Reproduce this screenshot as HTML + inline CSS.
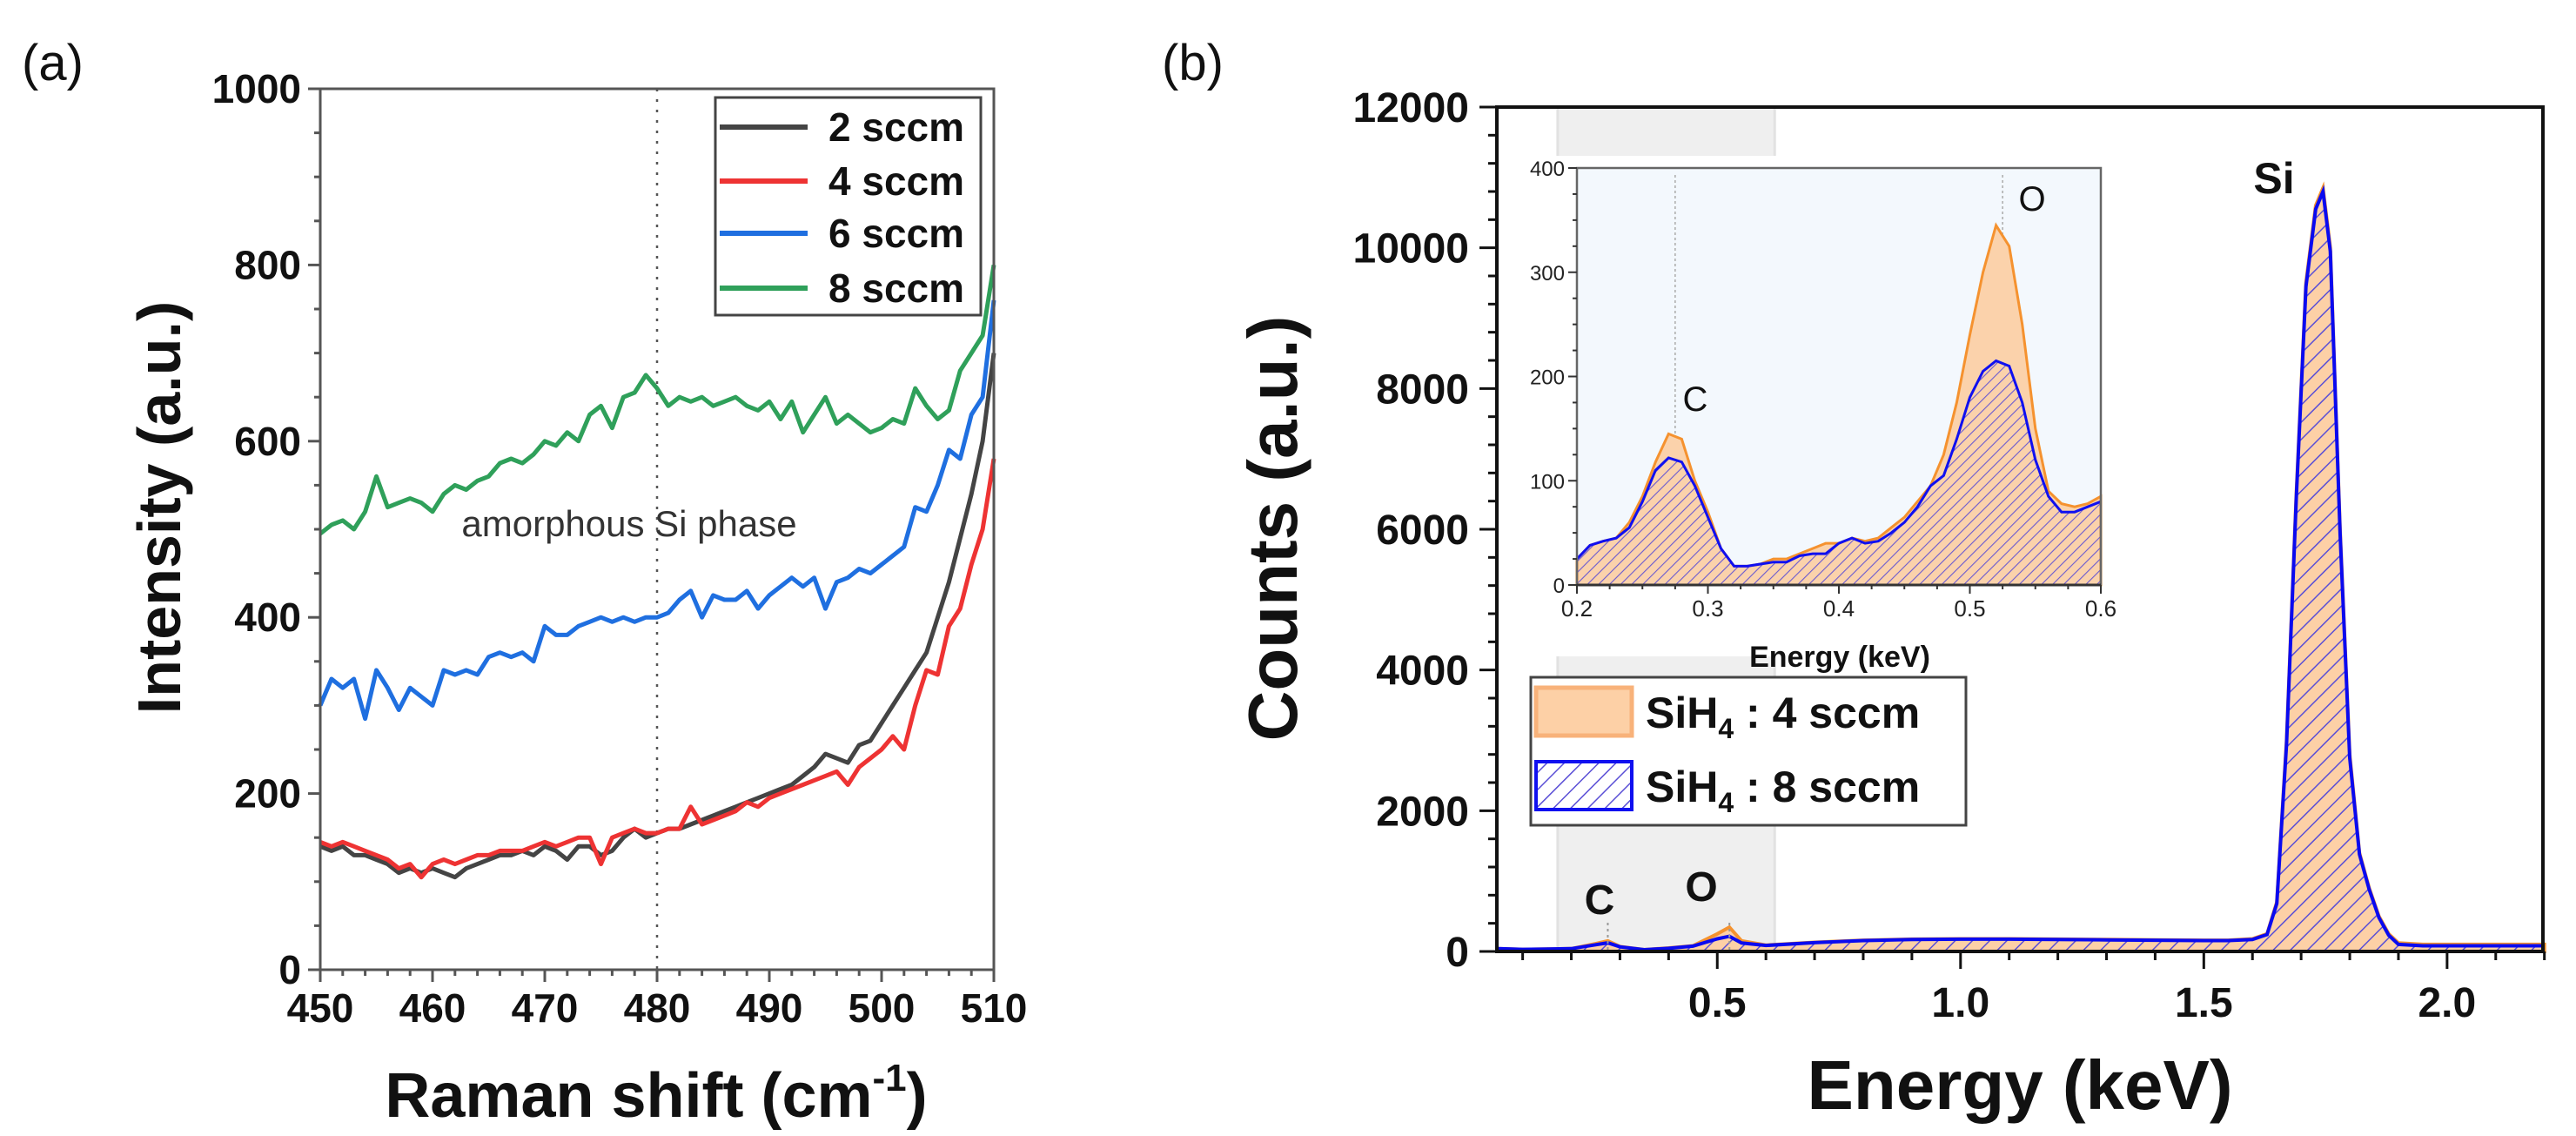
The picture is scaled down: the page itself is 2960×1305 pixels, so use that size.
<!DOCTYPE html>
<html><head><meta charset="utf-8"><style>
html,body{margin:0;padding:0;background:#fff;}
svg{display:block;font-family:"Liberation Sans",Arial,sans-serif;}
</style></head><body>
<svg id="fig" width="2960" height="1305" viewBox="0 0 2960 1305" xmlns="http://www.w3.org/2000/svg">
<defs>
<pattern id="hatch" patternUnits="userSpaceOnUse" width="14" height="14" patternTransform="rotate(45)">
<line x1="0" y1="0" x2="0" y2="14" stroke="#5a4fd6" stroke-width="3"/>
</pattern>
<pattern id="hatchS" patternUnits="userSpaceOnUse" width="9" height="9" patternTransform="rotate(45)">
<line x1="0" y1="0" x2="0" y2="9" stroke="#6a5ad0" stroke-width="2.2"/>
</pattern>
</defs>
<g id="pa"></g>
<g id="pb"></g>
</svg>
<script>
// ---------- Panel (a) data ----------
const ramanStart = 450;
const ramanStep = 1;
const series2sccm = [140,135,140,130,130,125,120,110,115,110,115,110,105,115,120,125,130,130,135,130,140,135,125,140,140,130,135,150,160,150,155,160,160,165,170,175,180,185,190,195,200,205,210,220,230,245,240,235,255,260,280,300,320,340,360,400,440,490,540,600,700];
const series4sccm = [145,140,145,140,135,130,125,115,120,105,120,125,120,125,130,130,135,135,135,140,145,140,145,150,150,120,150,155,160,155,155,160,160,185,165,170,175,180,190,185,195,200,205,210,215,220,225,210,230,240,250,265,250,300,340,335,390,410,460,500,580];
const series6sccm = [300,330,320,330,285,340,320,295,320,310,300,340,335,340,335,355,360,355,360,350,390,380,380,390,395,400,395,400,395,400,400,405,420,430,400,425,420,420,430,410,425,435,445,435,445,410,440,445,455,450,460,470,480,525,520,550,590,580,630,650,760];
const series8sccm = [495,505,510,500,520,560,525,530,535,530,520,540,550,545,555,560,575,580,575,585,600,595,610,600,630,640,615,650,655,675,660,640,650,645,650,640,645,650,640,635,645,625,645,610,630,650,620,630,620,610,615,625,620,660,640,625,635,680,700,720,800];
const ramanLabels = ["2 sccm","4 sccm","6 sccm","8 sccm"];
const ramanXTicks = [450,460,470,480,490,500,510];
const ramanYTicks = [0,200,400,600,800,1000];

// ---------- Panel (b) data ----------
const edsEnergy = [0.05,0.1,0.15,0.2,0.25,0.275,0.3,0.35,0.4,0.45,0.5,0.525,0.55,0.6,0.7,0.8,0.9,1.0,1.1,1.2,1.3,1.4,1.5,1.55,1.6,1.63,1.65,1.67,1.69,1.71,1.73,1.745,1.76,1.78,1.8,1.82,1.84,1.86,1.88,1.9,1.95,2.0,2.1,2.2];
const eds4sccm = [40,30,35,40,110,150,70,25,50,80,250,345,150,90,130,160,175,180,180,175,170,165,160,160,180,250,700,3000,6500,9500,10600,10850,10000,6000,2800,1400,900,500,250,120,100,100,100,100];
const eds8sccm = [40,30,35,40,95,122,65,25,45,75,180,215,120,85,125,155,170,175,175,170,165,160,155,155,170,240,680,2950,6450,9450,10550,10800,9950,5950,2750,1380,880,480,230,100,80,80,80,80];
const edsXTicks = [0.5,1.0,1.5,2.0];
const edsYTicks = [0,2000,4000,6000,8000,10000,12000];
const insetStart = 0.2;
const insetStep = 0.01;
const inset4sccm = [25,38,42,45,60,85,118,145,140,100,70,35,18,18,20,25,25,30,35,40,40,45,42,45,55,65,80,95,125,175,240,300,345,325,250,150,90,78,75,78,85];
const inset8sccm = [25,38,42,45,55,80,110,122,118,95,65,35,18,18,20,22,22,28,30,30,40,45,40,42,50,60,75,95,105,140,180,205,215,210,175,120,85,70,70,75,80];
const insetXTicks = [0.2,0.3,0.4,0.5,0.6];
const insetYTicks = [0,100,200,300,400];

const NS = "http://www.w3.org/2000/svg";
function mk(parent, tag, attrs, text){
  const e = document.createElementNS(NS, tag);
  for (const k in attrs) e.setAttribute(k, attrs[k]);
  if (text !== undefined) e.textContent = text;
  parent.appendChild(e);
  return e;
}

// ===== Panel A =====
const A = document.getElementById('pa');
const AX0=368, AX1=1142, AY0=1114, AY1=102;
const xa = v => AX0 + (v-450)/60*(AX1-AX0);
const ya = v => AY0 - v/1000*(AY0-AY1);

let t = mk(A,'text',{x:25,y:92,'font-size':58,fill:'#111'},'(a)');
 

// dotted line at 480
let dl = mk(A,'line',{x1:xa(480),x2:xa(480),y1:AY1,y2:AY0,stroke:'#555','stroke-width':2.5,'stroke-dasharray':'3,9'});
 
let am = mk(A,'text',{x:723,y:616,'font-size':42,fill:'#333','text-anchor':'middle'},'amorphous Si phase');
 

const aColors = ['#444444','#ee3333','#1f6fe0','#2fa05a'];
const aSeries = [series2sccm, series4sccm, series6sccm, series8sccm];
const aDrawOrder = [0,1,2,3];
aDrawOrder.forEach(si=>{
  const d = aSeries[si].map((v,i)=>(i?'L':'M')+xa(ramanStart+i*ramanStep).toFixed(1)+','+ya(v).toFixed(1)).join('');
  const p = mk(A,'path',{d:d,fill:'none',stroke:aColors[si],'stroke-width':5,'stroke-linejoin':'round'});
  
  
});

// frame
let fa = mk(A,'rect',{x:AX0,y:AY1,width:AX1-AX0,height:AY0-AY1,fill:'none',stroke:'#555','stroke-width':3});
 
// ticks
for(let v=0; v<=1000; v+=50){
  const major = v%200===0;
  const tk = mk(A,'line',{x1:AX0,x2:AX0-(major?14:7),y1:ya(v),y2:ya(v),stroke:'#555','stroke-width':3});
   
}
ramanYTicks.forEach(v=>{
  const l = mk(A,'text',{x:AX0-22,y:ya(v)+16,'font-size':46,'font-weight':'bold','text-anchor':'end',fill:'#111'},String(v));
   
});
for(let v=450; v<=510; v+=2){
  const major = v%10===0;
  const tk = mk(A,'line',{x1:xa(v),x2:xa(v),y1:AY0,y2:AY0+(major?14:7),stroke:'#555','stroke-width':3});
   
}
ramanXTicks.forEach(v=>{
  const l = mk(A,'text',{x:xa(v),y:1174,'font-size':46,'font-weight':'bold','text-anchor':'middle',fill:'#111'},String(v));
   
});
let yt = mk(A,'text',{x:0,y:0,'font-size':70,'font-weight':'bold','text-anchor':'middle',fill:'#111',transform:'translate(207,583) rotate(-90)'},'Intensity (a.u.)');
 
let xt = mk(A,'text',{x:754,y:1283,'font-size':72,'font-weight':'bold','text-anchor':'middle',fill:'#111'});
 
mk(xt,'tspan',{},'Raman shift (cm');
mk(xt,'tspan',{'font-size':44,dy:-30},'-1');
mk(xt,'tspan',{dy:30},')');

// legend A
const LA = mk(A,'g',{});
 
mk(LA,'rect',{x:822,y:112,width:305,height:250,fill:'#fff',stroke:'#444','stroke-width':3});
const legRows=[146,208,268,331];
ramanLabels.forEach((lab,i)=>{
  const g = mk(LA,'g',{});
   
  mk(g,'line',{x1:827,x2:928,y1:legRows[i],y2:legRows[i],stroke:aColors[i],'stroke-width':6});
  mk(g,'text',{x:952,y:legRows[i]+16,'font-size':46,'font-weight':'bold',fill:'#111'},lab);
});

// ===== Panel B =====
const B = document.getElementById('pb');
const BX0=1720, BX1=2922, BY0=1093, BY1=123;
const EMIN=0.047, EMAX=2.197;
const xb = v => BX0 + (v-EMIN)/(EMAX-EMIN)*(BX1-BX0);
const yb = v => BY0 - v/12000*(BY0-BY1);

let tb = mk(B,'text',{x:1335,y:92,'font-size':58,fill:'#111'},'(b)');
 

// gray band
let band = mk(B,'rect',{x:xb(0.172),y:BY1,width:xb(0.618)-xb(0.172),height:BY0-BY1,fill:'#efefef',stroke:'#e2e2e2','stroke-width':3});
 
let wb = mk(B,'rect',{x:1728,y:179,width:780,height:575,fill:'#fff'});
 

function areaPath(xs, ys, fx, fy, base){
  let d = 'M'+fx(xs[0]).toFixed(1)+','+base;
  xs.forEach((x,i)=>{ d += 'L'+fx(x).toFixed(1)+','+fy(ys[i]).toFixed(1); });
  d += 'L'+fx(xs[xs.length-1]).toFixed(1)+','+base+'Z';
  return d;
}
function linePath(xs, ys, fx, fy){
  return xs.map((x,i)=>(i?'L':'M')+fx(x).toFixed(1)+','+fy(ys[i]).toFixed(1)).join('');
}
// main spectra
let oa = mk(B,'path',{d:areaPath(edsEnergy,eds4sccm,xb,yb,BY0),fill:'#fdd0a6',stroke:'#f5922f','stroke-width':4});
 
let ba = mk(B,'path',{d:areaPath(edsEnergy,eds8sccm,xb,yb,BY0),fill:'url(#hatch)',stroke:'none'});
 
let bl = mk(B,'path',{d:linePath(edsEnergy,eds8sccm,xb,yb),fill:'none',stroke:'#0a0af0','stroke-width':4});
 

// C/O dotted markers
[0.275,0.525].forEach(e=>{
  const m = mk(B,'line',{x1:xb(e),x2:xb(e),y1:1060,y2:BY0,stroke:'#999','stroke-width':2,'stroke-dasharray':'3,4'});
   
});

// frame B
let fb = mk(B,'rect',{x:BX0,y:BY1,width:BX1-BX0,height:BY0-BY1,fill:'none',stroke:'#111','stroke-width':4});
 
for(let v=0; v<=12000; v+=400){
  const major = v%2000===0;
  const tk = mk(B,'line',{x1:BX0,x2:BX0-(major?20:10),y1:yb(v),y2:yb(v),stroke:'#111','stroke-width':3});
   
}
edsYTicks.forEach(v=>{
  const l = mk(B,'text',{x:1688,y:yb(v)+17,'font-size':48,'font-weight':'bold','text-anchor':'end',fill:'#111'},String(v));
   
});
for(let k=1; k<=22; k++){
  const v=k/10; const major = k%5===0;
  const tk = mk(B,'line',{x1:xb(v),x2:xb(v),y1:BY0,y2:BY0+(major?20:10),stroke:'#111','stroke-width':3});
   
}
edsXTicks.forEach(v=>{
  const l = mk(B,'text',{x:xb(v),y:1168,'font-size':48,'font-weight':'bold','text-anchor':'middle',fill:'#111'},v.toFixed(1));
   
});
let ytb = mk(B,'text',{x:0,y:0,'font-size':80,'font-weight':'bold','text-anchor':'middle',fill:'#111',transform:'translate(1490,607) rotate(-90)'},'Counts (a.u.)');
 
let xtb = mk(B,'text',{x:2321,y:1274,'font-size':80,'font-weight':'bold','text-anchor':'middle',fill:'#111'},'Energy (keV)');
 

let si = mk(B,'text',{x:2613,y:222,'font-size':50,'font-weight':'bold','text-anchor':'middle',fill:'#111'},'Si');
 
let cl = mk(B,'text',{x:1838,y:1050,'font-size':48,'font-weight':'bold','text-anchor':'middle',fill:'#111'},'C');
 
let ol = mk(B,'text',{x:1955,y:1035,'font-size':48,'font-weight':'bold','text-anchor':'middle',fill:'#111'},'O');
 

// ===== Inset =====
const IG = mk(B,'g',{});
 
const IX0=1812, IX1=2414, IY0=672, IY1=193;
const xi = v => IX0 + (v-0.2)/0.4*(IX1-IX0);
const yi = v => IY0 - v/400*(IY0-IY1);
mk(IG,'rect',{x:IX0,y:IY1,width:IX1-IX0,height:IY0-IY1,fill:'#f3f8fd'});
const insetE = inset4sccm.map((_,i)=>insetStart+i*insetStep);
[0.275,0.525].forEach(e=>{
  const m = mk(IG,'line',{x1:xi(e),x2:xi(e),y1:IY1+8,y2:IY0,stroke:'#aaa','stroke-width':1.5,'stroke-dasharray':'3,3'});
   
});
let ioa = mk(IG,'path',{d:areaPath(insetE,inset4sccm,xi,yi,IY0),fill:'#fbd2ab',stroke:'#f5922f','stroke-width':3});
 
let iba = mk(IG,'path',{d:areaPath(insetE,inset8sccm,xi,yi,IY0),fill:'url(#hatchS)',stroke:'none'});
 
let ibl = mk(IG,'path',{d:linePath(insetE,inset8sccm,xi,yi),fill:'none',stroke:'#1010f0','stroke-width':3});
 
mk(IG,'polyline',{points:`${IX0},${IY0} ${IX0},${IY1} ${IX1},${IY1} ${IX1},${IY0}`,fill:'none',stroke:'#666','stroke-width':2.5});
mk(IG,'line',{x1:IX0,x2:IX1,y1:IY0,y2:IY0,stroke:'#333','stroke-width':3});
for(let v=0; v<=400; v+=25){
  const major = v%100===0;
  mk(IG,'line',{x1:IX0,x2:IX0-(major?10:5),y1:yi(v),y2:yi(v),stroke:'#333','stroke-width':2});
}
insetYTicks.forEach(v=>{
  const l = mk(IG,'text',{x:IX0-14,y:yi(v)+9,'font-size':24,'text-anchor':'end',fill:'#222'},String(v));
   
});
for(let k=0; k<=16; k++){
  const v=0.2+k*0.025; const major = k%4===0;
  mk(IG,'line',{x1:xi(v),x2:xi(v),y1:IY0,y2:IY0+(major?10:5),stroke:'#333','stroke-width':2});
}
insetXTicks.forEach(v=>{
  const l = mk(IG,'text',{x:xi(v),y:708,'font-size':26,'text-anchor':'middle',fill:'#222'},v.toFixed(1));
   
});
let ixt = mk(IG,'text',{x:2114,y:766,'font-size':34,'font-weight':'bold','text-anchor':'middle',fill:'#111'},'Energy (keV)');
 
let ic = mk(IG,'text',{x:1948,y:472,'font-size':40,'text-anchor':'middle',fill:'#111'},'C');
 
let io = mk(IG,'text',{x:2335,y:242,'font-size':40,'text-anchor':'middle',fill:'#111'},'O');
 

// legend B
const LB = mk(B,'g',{});
 
mk(LB,'rect',{x:1759,y:778,width:500,height:170,fill:'#fff',stroke:'#444','stroke-width':3});
const e1 = mk(LB,'g',{});
 
mk(e1,'rect',{x:1765,y:790,width:110,height:55,fill:'#fdd0a6',stroke:'#f8b27a','stroke-width':5});
const t1 = mk(e1,'text',{x:1891,y:836,'font-size':50,'font-weight':'bold',fill:'#111'});
mk(t1,'tspan',{},'SiH');mk(t1,'tspan',{'font-size':32,dy:12},'4');mk(t1,'tspan',{dy:-12},' : 4 sccm');
const e2 = mk(LB,'g',{});
 
mk(e2,'rect',{x:1765,y:875,width:110,height:55,fill:'url(#hatch)',stroke:'#1010f0','stroke-width':4});
const t2 = mk(e2,'text',{x:1891,y:921,'font-size':50,'font-weight':'bold',fill:'#111'});
mk(t2,'tspan',{},'SiH');mk(t2,'tspan',{'font-size':32,dy:12},'4');mk(t2,'tspan',{dy:-12},' : 8 sccm');
</script>
</body></html>
